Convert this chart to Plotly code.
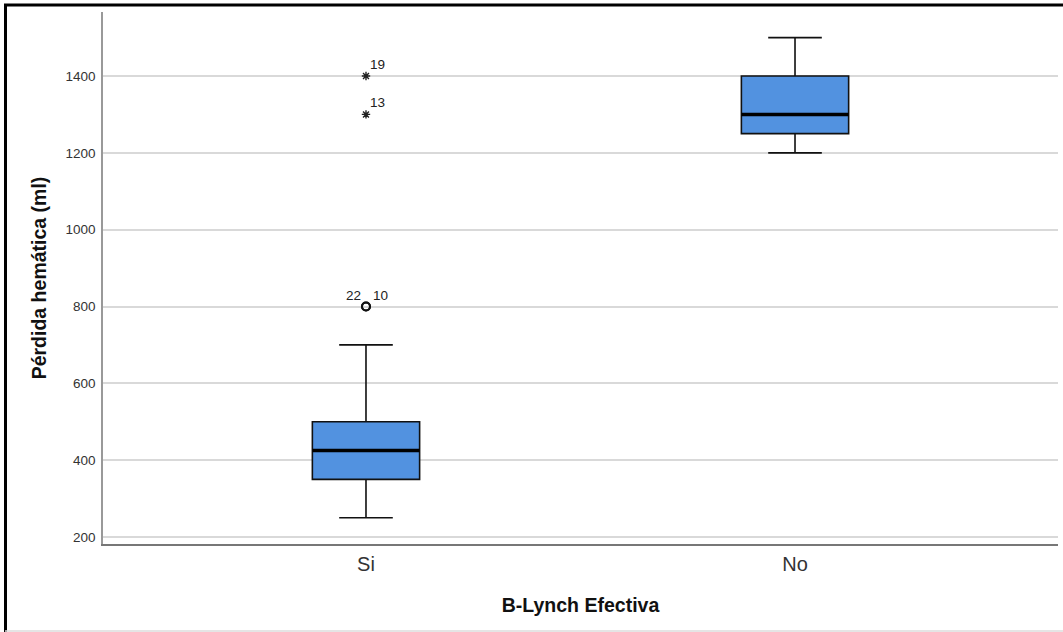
import plotly.graph_objects as go

# ---- data ----
categories = ["Si", "No"]
q1 = [350, 1250]
median = [425, 1300]
q3 = [500, 1400]
lower_whisker = [250, 1200]
upper_whisker = [700, 1500]

# outliers (group index, value, case id)
mild_group = [0, 0]
mild_values = [800, 800]
mild_ids = ["22", "10"]
extreme_group = [0, 0]
extreme_values = [1300, 1400]
extreme_ids = ["13", "19"]

y_ticks = [200, 400, 600, 800, 1000, 1200, 1400]

x_pos = list(range(len(categories)))
BOX_W = 0.25
FILL = "#5292E0"
FONT = "Liberation Sans, Arial, sans-serif"

fig = go.Figure()

fig.add_trace(go.Box(
    x=x_pos, q1=q1, median=median, q3=q3,
    lowerfence=lower_whisker, upperfence=upper_whisker,
    width=BOX_W, whiskerwidth=0.5,
    fillcolor=FILL, line=dict(color="#111111", width=1.6),
    boxpoints=False, hoverinfo="skip", showlegend=False,
))
# thick median line: degenerate box at the median
fig.add_trace(go.Box(
    x=x_pos, q1=median, median=median, q3=median,
    lowerfence=median, upperfence=median,
    width=BOX_W, whiskerwidth=0,
    fillcolor="rgba(0,0,0,0)", line=dict(color="#000000", width=3.5),
    boxpoints=False, hoverinfo="skip", showlegend=False,
))

fig.add_trace(go.Scatter(
    x=mild_group, y=mild_values, mode="markers",
    marker=dict(symbol="circle-open", size=8, color="#111111", line=dict(width=2)),
    showlegend=False, hoverinfo="skip",
))
fig.add_trace(go.Scatter(
    x=extreme_group, y=extreme_values, mode="markers",
    marker=dict(symbol="asterisk-open", size=7, color="#222222", line=dict(width=1.4, color="#222222")),
    showlegend=False, hoverinfo="skip",
))

ann_font = dict(family=FONT, size=13.5, color="#222222")
annotations = []
for g, v, cid in zip(mild_group, mild_values, mild_ids):
    left = cid == mild_ids[0]
    annotations.append(dict(
        x=x_pos[g], y=v, xref="x", yref="y", text=cid, showarrow=False,
        xanchor="right" if left else "left", yanchor="bottom",
        xshift=-3 if left else 5, yshift=2, font=ann_font,
    ))
for g, v, cid in zip(extreme_group, extreme_values, extreme_ids):
    annotations.append(dict(
        x=x_pos[g], y=v, xref="x", yref="y", text=cid, showarrow=False,
        xanchor="left", yanchor="bottom", xshift=2, yshift=2, font=ann_font,
    ))

# outer frame
L, R, T, B = 103, 5, 12, 88
W, H = 1063, 632
pw, ph = W - L - R, H - T - B
def px_x(p):
    return (p - L) / pw
def px_y(p):
    return 1 - (p - T) / ph
shapes = [
    dict(type="line", xref="paper", yref="paper", x0=px_x(5.5), x1=px_x(5.5), y0=px_y(4), y1=px_y(632),
         line=dict(color="#000000", width=3)),
    dict(type="line", xref="paper", yref="paper", x0=px_x(4), x1=px_x(1063), y0=px_y(5), y1=px_y(5),
         line=dict(color="#000000", width=3)),
    dict(type="line", xref="paper", yref="paper", x0=px_x(5), x1=px_x(1063), y0=px_y(631), y1=px_y(631),
         line=dict(color="#dddddd", width=1.5)),
]

fig.update_layout(
    width=W, height=H,
    margin=dict(l=L, r=R, t=T, b=B, pad=0),
    paper_bgcolor="white", plot_bgcolor="white",
    font=dict(family=FONT, color="#222222"),
    annotations=annotations, shapes=shapes,
    xaxis=dict(
        range=[-0.613, 1.613], tickvals=x_pos, ticktext=categories,
        showgrid=False, zeroline=False,
        showline=True, linecolor="#777777", linewidth=2,
        ticks="outside", ticklen=1, tickcolor="rgba(0,0,0,0)",
        tickfont=dict(size=20, color="#333333"),
        title=dict(text="<b>B-Lynch Efectiva</b>", font=dict(size=19.5, color="#111111"), standoff=24),
    ),
    yaxis=dict(
        range=[181.8, 1566.6], tickvals=y_ticks,
        showgrid=True, gridcolor="#d9d9d9", gridwidth=1.5,
        zeroline=False,
        showline=True, linecolor="#999999", linewidth=1.5,
        ticks="outside", ticklen=3, tickcolor="rgba(0,0,0,0)",
        tickfont=dict(size=13.5, color="#333333"),
        title=dict(text="<b>Pérdida hemática (ml)</b>", font=dict(size=19.5, color="#111111"), standoff=14),
    ),
)

fig.write_html("out.html", post_script="document.body.style.margin='0';",
               config={"displayModeBar": False})
